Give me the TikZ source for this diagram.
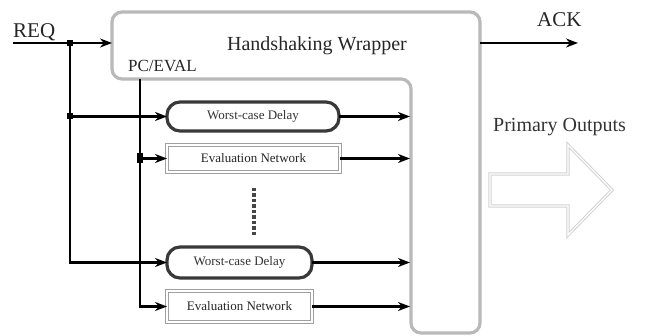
\documentclass[tikz,border=0pt]{standalone}
\usepackage{fontspec}
\setmainfont{Liberation Serif}
\usetikzlibrary{arrows.meta}
\tikzset{
  wire/.style={line width=2.2pt, black},
  arr/.style={wire, -{Stealth[length=12pt,width=9pt]}},
  delaybox/.style={draw=gray!45!black, line width=3.2pt, rounded corners=13pt, fill=white,
    inner sep=0pt, outer sep=0pt, text=gray!40!black, font=\fontsize{13}{15}\selectfont},
  evalbox/.style={draw=gray!75, double=white, double distance=1.6pt, line width=1.4pt, fill=white,
    inner sep=0pt, outer sep=0pt, text=gray!30!black, font=\fontsize{13}{15}\selectfont},
  wrapper/.style={draw=gray!55, line width=3.2pt, rounded corners=10pt},
  junction/.style={fill=black, minimum size=6pt, inner sep=0pt, outer sep=0pt},
  lbl/.style={inner sep=0pt, text=black!85},
}
\begin{document}
\begin{tikzpicture}[x=1pt,y=-1pt]
\useasboundingbox (0,0) rectangle (646,336);
% wrapper (inverted L)
\draw[wrapper] (112,12) -- (480,12) -- (480,333) -- (411,333) -- (411,79) -- (112,79) -- cycle;
\node[lbl, anchor=base, font=\fontsize{20}{24}\selectfont] (hw) at (317,51) {Handshaking Wrapper};
\node[lbl, anchor=base west, font=\fontsize{17}{20}\selectfont] (pclbl) at (128,72) {PC/EVAL};
\node[lbl, anchor=base west, font=\fontsize{21}{24}\selectfont] (reqlbl) at (13,38) {REQ};
\node[lbl, anchor=base west, font=\fontsize{21}{24}\selectfont] (acklbl) at (537,27) {ACK};
\node[lbl, anchor=base west, text=gray!40!black, font=\fontsize{20}{24}\selectfont] (polbl) at (493,132) {Primary Outputs};

% boxes
\node[delaybox, minimum width=172pt, minimum height=29pt] (wcd1) at (253,116.5) {Worst-case Delay};
\node[evalbox, minimum width=173pt, minimum height=27pt] (en1) at (253.5,158.5) {Evaluation Network};
\node[delaybox, minimum width=145pt, minimum height=31pt] (wcd2) at (239.5,262.5) {Worst-case Delay};
\node[evalbox, minimum width=145pt, minimum height=31pt] (en2) at (239.5,306.5) {Evaluation Network};

% dotted continuation
\coordinate (dtop) at (254,188);
\coordinate (dbot) at (254,235);
\draw[gray!55!black, line width=3.5pt, dash pattern=on 3.5pt off 2pt] (dtop) -- (dbot);

% coordinates
\coordinate (reqs) at (13,43);
\coordinate (reqin) at (112,43);
\coordinate (j1) at (70,43);
\coordinate (j2) at (70,116.5);
\coordinate (pc) at (140,79);
\coordinate (j3) at (140,158.5);
\coordinate (o1) at (410,116.5);
\coordinate (o2) at (410,158.5);
\coordinate (o3) at (410,262.5);
\coordinate (o4) at (410,306.5);
\coordinate (acks) at (480,43);
\coordinate (acke) at (578,43);

% connectors
\draw[arr] (reqs) -- (reqin);
\draw[arr] (j1) |- (wcd2.west);
\draw[arr] (j2) -- (wcd1.west);
\draw[arr] (pc) |- (en2.west);
\draw[arr] (j3) -- (en1.west);
\draw[arr] (wcd1.east) -- (o1);
\draw[arr] (en1.east) -- (o2);
\draw[arr] (wcd2.east) -- (o3);
\draw[arr] (en2.east) -- (o4);
\draw[arr] (acks) -- (acke);
\node[junction] (dj1) at (j1) {};
\node[junction] (dj2) at (j2) {};
\node[junction, minimum width=6pt, minimum height=10pt] (dj3) at (j3) {};

% primary outputs hollow arrow
\draw[draw=gray!35, double=white, double distance=1.2pt, line width=1pt, line join=miter]
  (490,174) -- (568,174) -- (568,145) -- (612,190) -- (568,235) -- (568,206) -- (490,206) -- cycle;
\end{tikzpicture}
\end{document}
